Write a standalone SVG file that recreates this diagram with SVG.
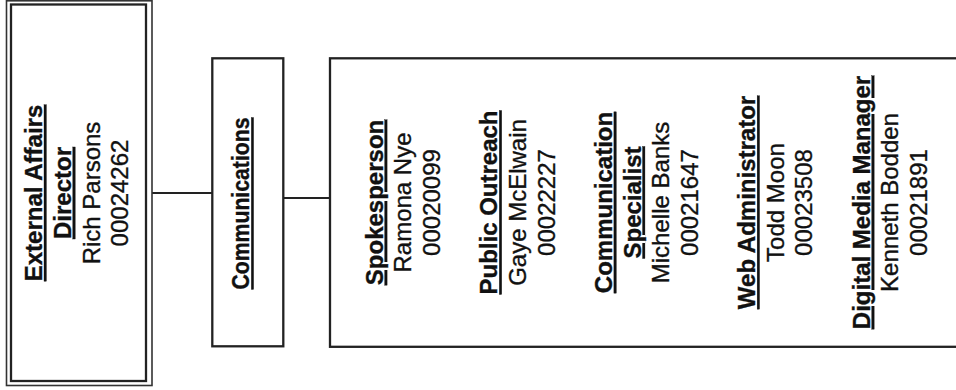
<svg xmlns="http://www.w3.org/2000/svg" width="956" height="390" viewBox="0 0 956 390">
<style>
.box{fill:#fff;stroke:#222;stroke-width:2.3}
.thin{fill:none;stroke:#333;stroke-width:1.6}
.conn{fill:none;stroke:#222;stroke-width:2.2}
text{font-family:"Liberation Sans",Arial,sans-serif;font-size:24px;fill:#111;stroke:#111;stroke-width:0.35;text-anchor:middle}
.b{font-weight:bold;text-decoration:underline}
</style>
<rect width="956" height="390" fill="#fff"/>
<g id="connectors">
<line class="conn" x1="152" y1="193" x2="212" y2="193"/>
<line class="conn" x1="283" y1="198" x2="330" y2="198"/>
</g>
<g id="node-director">
<rect class="thin" x="6.5" y="0.8" width="145.5" height="384.7"/>
<rect class="box" x="11" y="4.5" width="135" height="376.5"/>
<text class="b" transform="translate(42,193) rotate(-90)">External Affairs</text>
<text class="b" transform="translate(70.8,193) rotate(-90)">Director</text>
<text transform="translate(99.6,193) rotate(-90)">Rich Parsons</text>
<text transform="translate(128.4,193) rotate(-90)">00024262</text>
</g>
<g id="node-communications">
<rect class="box" x="212.3" y="58.3" width="71" height="288"/>
<text class="b" transform="translate(249.3,203.5) rotate(-90)" style="font-size:23px" textLength="172" lengthAdjust="spacingAndGlyphs">Communications</text>
</g>
<g id="node-staff">
<rect class="box" x="330" y="58.3" width="640" height="288.5"/>
<text class="b" transform="translate(382.7,202.5) rotate(-90)">Spokesperson</text>
<text transform="translate(411.35,202.5) rotate(-90)">Ramona Nye</text>
<text transform="translate(440,202.5) rotate(-90)">00020099</text>
<text class="b" transform="translate(497.3,202.5) rotate(-90)">Public Outreach</text>
<text transform="translate(525.95,202.5) rotate(-90)">Gaye McElwain</text>
<text transform="translate(554.6,202.5) rotate(-90)">00022227</text>
<text class="b" transform="translate(611.9,202.5) rotate(-90)">Communication</text>
<text class="b" transform="translate(640.55,202.5) rotate(-90)">Specialist</text>
<text transform="translate(669.2,202.5) rotate(-90)">Michelle Banks</text>
<text transform="translate(697.85,202.5) rotate(-90)">00021647</text>
<text class="b" transform="translate(755.15,202.5) rotate(-90)">Web Administrator</text>
<text transform="translate(783.8,202.5) rotate(-90)">Todd Moon</text>
<text transform="translate(812.45,202.5) rotate(-90)">00023508</text>
<text class="b" transform="translate(869.75,202.5) rotate(-90)">Digital Media Manager</text>
<text transform="translate(898.4,202.5) rotate(-90)">Kenneth Bodden</text>
<text transform="translate(927.05,202.5) rotate(-90)">00021891</text>
</g>
</svg>
